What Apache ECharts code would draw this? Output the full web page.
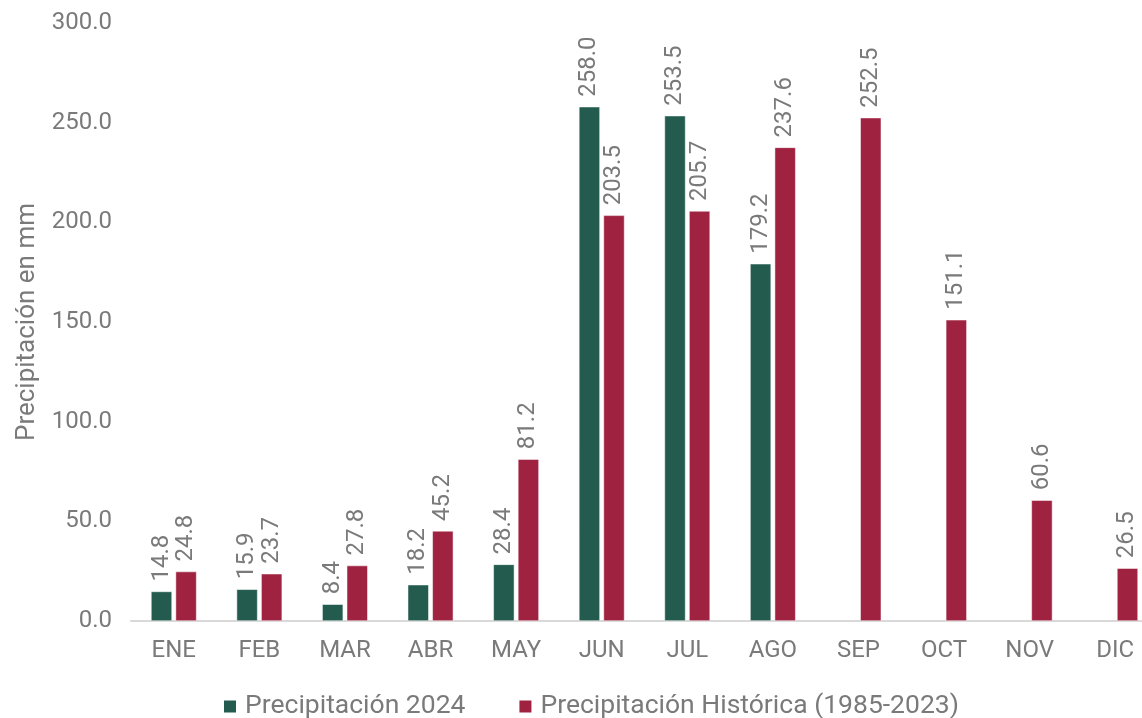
<!DOCTYPE html>
<html><head><meta charset="utf-8">
<script src="https://cdn.jsdelivr.net/npm/echarts@6/dist/echarts.min.js"></script>
<style>html,body{margin:0;padding:0;background:#fff}#c{width:1142px;height:718px}</style>
</head><body><div id="c"></div>
<script>
var months = ['ENE','FEB','MAR','ABR','MAY','JUN','JUL','AGO','SEP','OCT','NOV','DIC'];
var precip2024 = [14.8, 15.9, 8.4, 18.2, 28.4, 258.0, 253.5, 179.2, null, null, null, null];
var precipHist = [24.8, 23.7, 27.8, 45.2, 81.2, 203.5, 205.7, 237.6, 252.5, 151.1, 60.6, 26.5];
var yTicks = [0, 50, 100, 150, 200, 250, 300];

var gray = '#7a7a7a';
var font = 'Roboto';
var lbl = {
  show: true, position: 'top', rotate: 90, align: 'left', verticalAlign: 'middle',
  distance: 10, color: gray, fontFamily: font, fontSize: 24,
  formatter: function(p){ return p.value == null ? '' : p.value.toFixed(1); }
};
var chart = echarts.init(document.getElementById('c'), null, {renderer: 'canvas'});
chart.setOption({
  animation: false,
  textStyle: {fontFamily: font},
  grid: {left: 131, top: 23, width: 1027, height: 598, containLabel: false, outerBoundsMode: 'none'},
  legend: {
    top: 688, left: 217, itemWidth: 14, itemHeight: 14, itemGap: 52,
    icon: 'rect',
    textStyle: {color: gray, fontFamily: font, fontSize: 26.5, padding: [0,0,0,3]},
    data: ['Precipitación 2024', 'Precipitación Histórica (1985-2023)']
  },
  xAxis: {
    type: 'category', data: months,
    axisLine: {lineStyle: {color: '#d9d9d9', width: 2}},
    axisTick: {show: false},
    axisLabel: {color: gray, fontFamily: font, fontSize: 24, margin: 18}
  },
  yAxis: {
    type: 'value', min: yTicks[0], max: yTicks[yTicks.length-1], interval: 50,
    name: 'Precipitación en mm', nameLocation: 'middle', nameGap: 81,
    nameTextStyle: {color: gray, fontFamily: font, fontSize: 26},
    axisLine: {show: false}, axisTick: {show: false}, splitLine: {show: false},
    axisLabel: {color: gray, fontFamily: font, fontSize: 24, margin: 19,
      formatter: function(v){ return v.toFixed(1); }}
  },
  series: [
    {name: 'Precipitación 2024', type: 'bar', data: precip2024, barWidth: 21, barGap: '17%',
     itemStyle: {color: '#235b4e', borderColor: '#ffffff', borderWidth: 0.5}, label: lbl},
    {name: 'Precipitación Histórica (1985-2023)', type: 'bar', data: precipHist, barWidth: 21, barGap: '17%',
     itemStyle: {color: '#9f2241', borderColor: '#ffffff', borderWidth: 0.5}, label: lbl}
  ]
});
</script></body></html>
